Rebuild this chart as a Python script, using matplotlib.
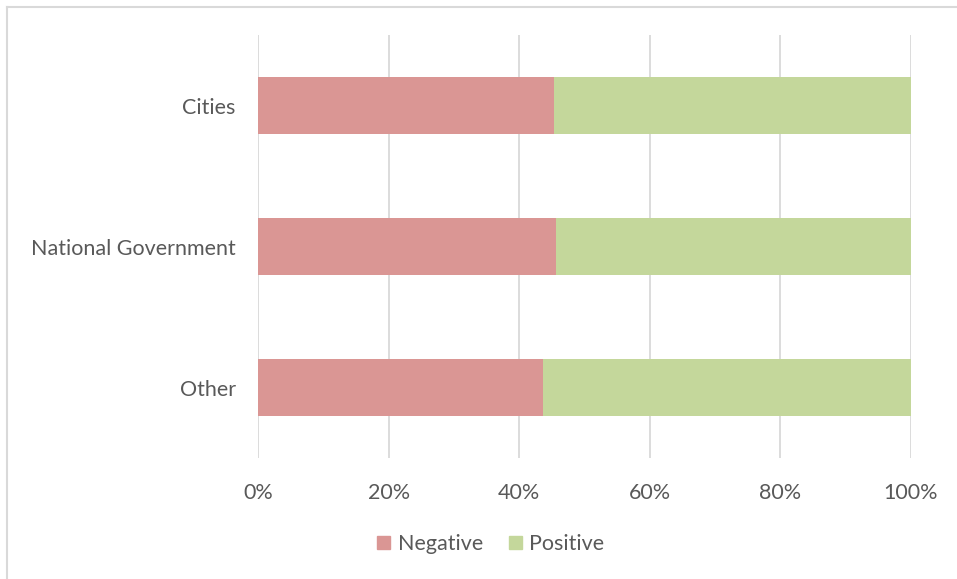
import matplotlib
matplotlib.use("Agg")
import matplotlib.pyplot as plt
from matplotlib.lines import Line2D
from matplotlib.patches import Patch
from matplotlib.ticker import FuncFormatter

categories = ["Cities", "National Government", "Other"]
negative = [45.3, 45.6, 43.6]
positive = [54.7, 54.4, 56.4]
x_ticks = [0, 20, 40, 60, 80, 100]

NEG_COLOR = "#DA9694"
POS_COLOR = "#C4D79B"
TEXT_COLOR = "#595959"
GRID_COLOR = "#D9D9D9"

plt.rcParams["font.family"] = ["Lato", "DejaVu Sans"]

W, H = 957, 579
fig = plt.figure(figsize=(W / 100, H / 100), dpi=100)
ax = fig.add_axes([258 / W, (H - 458) / H, (911 - 258) / W, (458 - 35) / H])

y = list(range(len(categories)))
ax.barh(y, negative, height=0.40, color=NEG_COLOR, label="Negative", zorder=3)
ax.barh(y, positive, left=negative, height=0.40, color=POS_COLOR, label="Positive", zorder=3)

ax.set_xlim(0, 100)
ax.set_ylim(len(categories) - 0.5, -0.5)
ax.set_yticks(y)
ax.set_yticklabels(categories)
ax.set_xticks(x_ticks)
ax.xaxis.set_major_formatter(FuncFormatter(lambda v, _: f"{v:.0f}%"))

ax.grid(axis="x", color=GRID_COLOR, linewidth=1.3, zorder=0)
for s in ax.spines.values():
    s.set_visible(False)
ax.tick_params(axis="both", length=0, labelsize=15.5, colors=TEXT_COLOR)
ax.tick_params(axis="x", pad=18)
ax.tick_params(axis="y", pad=16)

handles = [Patch(color=NEG_COLOR), Patch(color=POS_COLOR)]
fig.legend(handles, ["Negative", "Positive"], loc="center", ncol=2,
           bbox_to_anchor=(491 / W, (H - 544) / H), frameon=False,
           fontsize=15.5, labelcolor=TEXT_COLOR, handlelength=0.6, handleheight=0.6,
           handletextpad=0.35, columnspacing=1.2)

# outer chart frame (top and left edges)
fig.add_artist(Line2D([6.5 / W, 1.0], [(H - 6.5) / H, (H - 6.5) / H],
                      transform=fig.transFigure, color=GRID_COLOR, linewidth=1.5))
fig.add_artist(Line2D([6.5 / W, 6.5 / W], [0.0, (H - 6.5) / H],
                      transform=fig.transFigure, color=GRID_COLOR, linewidth=1.5))

fig.savefig("out.png", dpi=100)
